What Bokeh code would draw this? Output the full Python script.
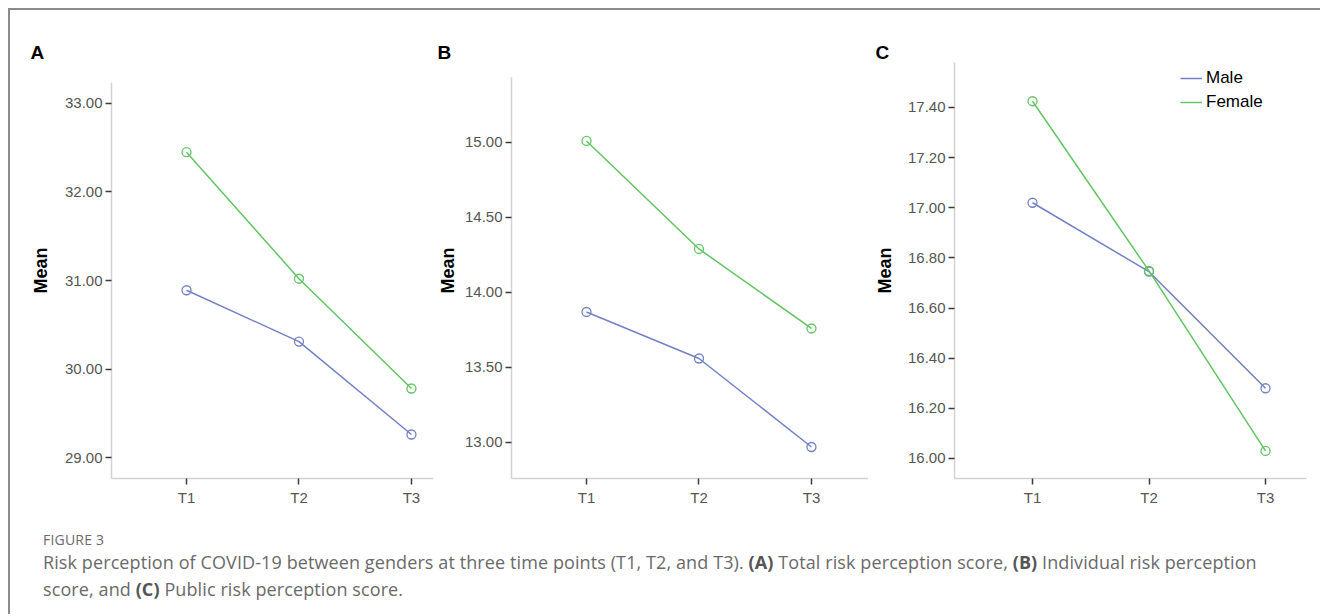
from bokeh.plotting import figure
from bokeh.models import (FixedTicker, NumeralTickFormatter, Legend, LegendItem,
                          Range1d, Div, Title)
from bokeh.layouts import row, column
from bokeh.embed import file_html
from bokeh.resources import INLINE

# ---------------- data ----------------
times = ["T1", "T2", "T3"]
series_names = ["Male", "Female"]

total_male = [30.89, 30.31, 29.26]
total_female = [32.45, 31.02, 29.78]

indiv_male = [13.87, 13.56, 12.97]
indiv_female = [15.01, 14.29, 13.76]

public_male = [17.02, 16.745, 16.28]
public_female = [17.425, 16.748, 16.03]

ticks_a = [29.0, 30.0, 31.0, 32.0, 33.0]
ticks_b = [13.0, 13.5, 14.0, 14.5, 15.0]
ticks_c = [16.0, 16.2, 16.4, 16.6, 16.8, 17.0, 17.2, 17.4]

panel_letters = ["A", "B", "C"]

# ---------------- style ----------------
MALE_C = "#7480c6"
FEMALE_C = "#62c462"
AXIS_C = "#d2d2d2"
TICK_C = "#3a3a3a"
LABEL_C = "#555555"
FONT = "Liberation Sans"

xpos = list(range(1, len(times) + 1))


def make_panel(letter, male, female, yticks, xr, yr, ybounds, width,
               mbl, mbr, letter_dx, label_standoff, legend=False):
    p = figure(width=width, height=510, output_backend="svg", toolbar_location=None,
               x_range=Range1d(*xr), y_range=Range1d(*yr),
               min_border_left=mbl, min_border_right=mbr,
               min_border_top=52, min_border_bottom=42)
    p.outline_line_color = None
    p.xgrid.visible = False
    p.ygrid.visible = False
    p.background_fill_color = "white"
    p.border_fill_color = "white"

    p.title = Title(text=letter, text_font=FONT, text_font_style="bold",
                    text_font_size="19px", text_color="black",
                    align="left", offset=letter_dx, standoff=0)

    for ax in (p.xaxis[0], p.yaxis[0]):
        ax.axis_line_color = AXIS_C
        ax.axis_line_width = 1.5
        ax.major_tick_line_color = TICK_C
        ax.major_tick_line_width = 1.5
        ax.major_tick_in = 0
        ax.major_tick_out = 6
        ax.minor_tick_line_color = None
        ax.major_label_text_font = FONT
        ax.major_label_text_font_size = "15px"
        ax.major_label_text_color = LABEL_C

    p.xaxis.ticker = FixedTicker(ticks=xpos)
    p.xaxis.major_label_overrides = {x: t for x, t in zip(xpos, times)}
    p.xaxis.major_label_standoff = 4

    p.yaxis.ticker = FixedTicker(ticks=yticks)
    p.yaxis.bounds = ybounds
    p.yaxis.formatter = NumeralTickFormatter(format="0.00")
    p.yaxis.major_label_standoff = 3
    p.yaxis.axis_label = "Mean"
    p.yaxis.axis_label_text_font = FONT
    p.yaxis.axis_label_text_font_style = "bold"
    p.yaxis.axis_label_text_font_size = "18px"
    p.yaxis.axis_label_text_color = "black"
    p.yaxis.axis_label_standoff = label_standoff

    lm = p.line(xpos, male, line_color=MALE_C, line_width=1.5)
    p.scatter(xpos, male, marker="circle", size=9, fill_color=None,
              line_color=MALE_C, line_width=1.3)
    lf = p.line(xpos, female, line_color=FEMALE_C, line_width=1.5)
    p.scatter(xpos, female, marker="circle", size=9, fill_color=None,
              line_color=FEMALE_C, line_width=1.3)

    if legend:
        lg = Legend(items=[LegendItem(label=series_names[0], renderers=[lm]),
                           LegendItem(label=series_names[1], renderers=[lf])],
                    location=(226, 366), padding=0, margin=0, spacing=4,
                    glyph_width=22, glyph_height=20, label_height=20,
                    label_standoff=4, border_line_color=None,
                    background_fill_alpha=0,
                    label_text_font=FONT, label_text_font_size="17px",
                    label_text_color="black")
        p.add_layout(lg)
    return p


pA = make_panel(panel_letters[0], total_male, total_female, ticks_a,
                (0.333, 3.196), (28.763, 33.463), (28.763, 33.237), 423,
                101, 0, -81, 11)
pB = make_panel(panel_letters[1], indiv_male, indiv_female, ticks_b,
                (0.333, 3.507), (12.76, 15.533), (12.76, 15.433), 435,
                78, 0, -74, 4)
pC = make_panel(panel_letters[2], public_male, public_female, ticks_c,
                (0.330, 3.352), (15.92, 17.5795), (15.92, 17.5795), 444,
                86, 6, -79, 10, legend=True)

caption_html = (
    '<div style="font-family:\'Open Sans\'; color:#6a6a6a; padding-left:28px; '
    'padding-top:6px; white-space:nowrap;">'
    '<div style="font-size:14px; line-height:18px; letter-spacing:0.2px;">FIGURE 3</div>'
    '<div style="font-size:18px; line-height:27px; letter-spacing:0.1px;">'
    'Risk perception of COVID-19 between genders at three time points (T1, T2, and T3). '
    '<b style="color:#555">(A)</b> Total risk perception score, '
    '<b style="color:#555">(B)</b> Individual risk perception<br>'
    'score, and <b style="color:#555">(C)</b> Public risk perception score.'
    '</div></div>'
)
cap = Div(text=caption_html, width=1300, height=84)

layout = column(row(pA, pB, pC), cap,
                styles={"margin-left": "8px", "margin-top": "8px",
                        "border-left": "2px solid #8c8c8c",
                        "border-top": "2px solid #8c8c8c"})

open("out.html", "w").write(file_html(layout, INLINE))
